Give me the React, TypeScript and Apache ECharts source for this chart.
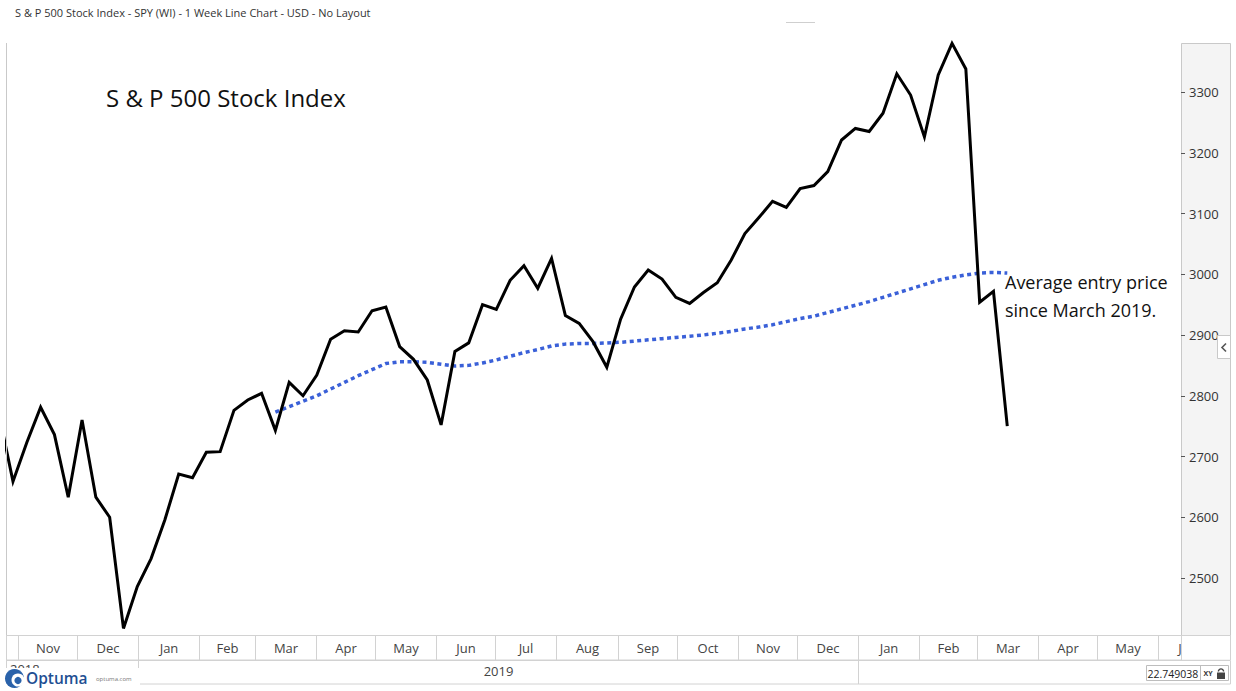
import { useEffect, useRef } from "react";
import * as echarts from "echarts";

// Weekly closing dates (Friday) and closes of the S&P 500
const weekEnding = [
  "2018-10-19", "2018-10-26", "2018-11-02", "2018-11-09", "2018-11-16", "2018-11-23", "2018-11-30",
  "2018-12-07", "2018-12-14", "2018-12-21", "2018-12-28",
  "2019-01-04", "2019-01-11", "2019-01-18", "2019-01-25", "2019-02-01", "2019-02-08", "2019-02-15",
  "2019-02-22", "2019-03-01", "2019-03-08", "2019-03-15", "2019-03-22", "2019-03-29", "2019-04-05",
  "2019-04-12", "2019-04-19", "2019-04-26", "2019-05-03", "2019-05-10", "2019-05-17", "2019-05-24",
  "2019-05-31", "2019-06-07", "2019-06-14", "2019-06-21", "2019-06-28", "2019-07-05", "2019-07-12",
  "2019-07-19", "2019-07-26", "2019-08-02", "2019-08-09", "2019-08-16", "2019-08-23", "2019-08-30",
  "2019-09-06", "2019-09-13", "2019-09-20", "2019-09-27", "2019-10-04", "2019-10-11", "2019-10-18",
  "2019-10-25", "2019-11-01", "2019-11-08", "2019-11-15", "2019-11-22", "2019-11-29", "2019-12-06",
  "2019-12-13", "2019-12-20", "2019-12-27",
  "2020-01-03", "2020-01-10", "2020-01-17", "2020-01-24", "2020-01-31", "2020-02-07", "2020-02-14",
  "2020-02-21", "2020-02-28", "2020-03-06", "2020-03-13",
];

const spxClose = [
  2768, 2659, 2723, 2781, 2736, 2633, 2760, 2633, 2600, 2417, 2486,
  2532, 2596, 2671, 2665, 2707, 2708, 2776, 2793, 2804, 2743, 2822, 2800, 2834, 2893, 2907,
  2905, 2940, 2946, 2881, 2860, 2826, 2752, 2873, 2887, 2950, 2942, 2990, 3014, 2977, 3026,
  2932, 2919, 2889, 2847, 2926, 2979, 3007, 2992, 2962, 2952, 2970, 2986, 3023, 3067, 3093,
  3120, 3110, 3141, 3146, 3169, 3221, 3240,
  3235, 3265, 3330, 3295, 3226, 3328, 3380, 3338, 2954, 2972, 2750,
];

// Average entry price, one value per week from the first March 2019 entry
const avgEntryFrom = "2019-03-08";
const avgEntry = [
  2773, 2782, 2791, 2800, 2811, 2822, 2833, 2843, 2853, 2856, 2856, 2855, 2852, 2849, 2850,
  2854, 2859, 2865, 2871, 2876, 2882, 2885, 2886, 2886, 2887, 2888, 2890, 2892, 2894, 2896,
  2898, 2900, 2903, 2906, 2910, 2913, 2917, 2922, 2927, 2931, 2937, 2943, 2949, 2955, 2962,
  2969, 2976, 2983, 2990, 2995, 2999, 3002, 3003, 3002,
];

// Time band: month cells and year cells
const monthStarts = [
  "2018-11-01", "2018-12-01", "2019-01-01", "2019-02-01", "2019-03-01", "2019-04-01", "2019-05-01",
  "2019-06-01", "2019-07-01", "2019-08-01", "2019-09-01", "2019-10-01", "2019-11-01", "2019-12-01",
  "2020-01-01", "2020-02-01", "2020-03-01", "2020-04-01", "2020-05-01", "2020-06-01", "2020-07-01",
];
const monthNames = [
  "Nov", "Dec", "Jan", "Feb", "Mar", "Apr", "May", "Jun", "Jul", "Aug",
  "Sep", "Oct", "Nov", "Dec", "Jan", "Feb", "Mar", "Apr", "May", "Jun",
];
const yearStarts = ["2019-01-01", "2020-01-01"];
const yearLabels = ["2018", "2019"];

const yTicks = { min: 2400, max: 3400, step: 100 };

const headerText = "S & P 500 Stock Index - SPY (WI) - 1 Week Line Chart - USD - No Layout";
const chartTitle = "S & P 500 Stock Index";
const noteLines = ["Average entry price", "since March 2019."];
const readout = "22.749038";

const DAY = 86400000;
const ts = (d: string) => Date.parse(d + "T00:00:00Z");

const viewStart = ts("2018-10-22") + 23 * 3600000;
const viewEnd = ts("2020-06-09") + 1.5 * 3600000;

const FONT = '"Open Sans", "Noto Sans", sans-serif';
const BORDER = "#d2d2d2";
const PLOT_RIGHT = 1181.5;

export default function App() {
  const ref = useRef<HTMLDivElement>(null);

  useEffect(() => {
    if (!ref.current) return;
    const chart = echarts.init(ref.current, undefined, { renderer: "svg" });

    const avgOffset = weekEnding.indexOf(avgEntryFrom);
    const priceData = weekEnding.map((d, i) => [ts(d), spxClose[i]]);
    const avgData = avgEntry.map((v, i) => [ts(weekEnding[avgOffset + i]), v]);

    chart.setOption({
      animation: false,
      backgroundColor: "#ffffff",
      grid: { left: 7, right: 55, top: 31.25, bottom: 52.25, containLabel: false },
      xAxis: { type: "time", min: viewStart, max: viewEnd, show: false },
      yAxis: {
        type: "value",
        position: "right",
        min: yTicks.min,
        max: yTicks.max,
        interval: yTicks.step,
        axisLine: { show: false },
        axisTick: { show: true, length: 4, lineStyle: { color: "#555", width: 1 } },
        axisLabel: {
          margin: 8,
          color: "#333",
          fontSize: 13,
          fontFamily: FONT,
          // the end ticks fall under the header and the time band
          formatter: (v: number) => (v >= yTicks.max || v <= yTicks.min ? "" : String(v)),
        },
        splitLine: { show: false },
      },
      series: [
        {
          type: "line",
          data: avgData,
          showSymbol: false,
          z: 2,
          lineStyle: { color: "#3a60d8", width: 3.5, type: [4, 3.5] },
        },
        {
          type: "line",
          data: priceData,
          showSymbol: false,
          z: 3,
          lineStyle: { color: "#000000", width: 3, join: "miter", miterLimit: 4 },
        },
      ],
    });

    const px = (t: number) => chart.convertToPixel({ xAxisIndex: 0 }, t) as number;
    // cell boundaries sit half a week before the first day of the period
    const sepX = (d: string) => Math.round(px(ts(d) - 3.5 * DAY)) + 0.5;

    const g: any[] = [];

    // header
    g.push({
      type: "text", x: 15, y: 12, z: 120,
      style: { text: headerText, font: `11px ${FONT}`, fill: "#333", textVerticalAlign: "middle" },
    });
    g.push({
      type: "line", z: 120,
      shape: { x1: 786, y1: 22.5, x2: 815, y2: 22.5 },
      style: { stroke: "#cfcfcf", lineWidth: 1 },
    });

    // price axis panel
    g.push({
      type: "rect", z: -1,
      shape: { x: PLOT_RIGHT, y: 43.5, width: 49, height: 592 },
      style: { fill: "#f4f4f4", stroke: "#c9c9c9", lineWidth: 1 },
    });
    g.push({
      type: "rect", z: 100,
      shape: { x: 1170, y: 24, width: 66, height: 19 },
      style: { fill: "#ffffff" },
    });
    // collapse button
    g.push({
      type: "rect", z: 101,
      shape: { x: 1217.5, y: 335.5, width: 13, height: 23 },
      style: { fill: "#ffffff", stroke: "#c9c9c9", lineWidth: 1 },
    });
    g.push({
      type: "polyline", z: 102,
      shape: { points: [[1226, 343.5], [1222, 347.5], [1226, 351.5]] },
      style: { stroke: "#555", lineWidth: 1.6, fill: null },
    });

    // plot frame left edge
    g.push({
      type: "line", z: 100,
      shape: { x1: 6.5, y1: 43, x2: 6.5, y2: 684 },
      style: { stroke: "#c9c9c9", lineWidth: 1 },
    });

    // chart title and note
    g.push({
      type: "text", x: 106, y: 97, z: 50,
      style: { text: chartTitle, font: `24px ${FONT}`, fill: "#111", textVerticalAlign: "middle" },
    });
    noteLines.forEach((t, i) => {
      g.push({
        type: "text", x: 1005, y: 282 + i * 28, z: 50,
        style: { text: t, font: `18px ${FONT}`, fill: "#111", textVerticalAlign: "middle" },
      });
    });

    // month band
    g.push({
      type: "rect", z: 100,
      shape: { x: 6.5, y: 635.5, width: 1224, height: 24.5 },
      style: { fill: "#ffffff", stroke: BORDER, lineWidth: 1 },
    });
    monthStarts.forEach((d, k) => {
      const x = sepX(d);
      if (x < PLOT_RIGHT) {
        g.push({
          type: "line", z: 101,
          shape: { x1: x, y1: 636, x2: x, y2: 660 },
          style: { stroke: BORDER, lineWidth: 1 },
        });
      }
      if (k < monthNames.length) {
        const x2 = sepX(monthStarts[k + 1]);
        g.push({
          type: "text", x: (x + x2) / 2, y: 648, z: 101,
          style: {
            text: monthNames[k], font: `13px ${FONT}`, fill: "#444",
            textAlign: "center", textVerticalAlign: "middle",
          },
        });
      }
    });
    // band area under the price axis hides whatever runs past the plot edge
    g.push({
      type: "rect", z: 105,
      shape: { x: PLOT_RIGHT, y: 636, width: 54, height: 23.5 },
      style: { fill: "#ffffff" },
    });
    g.push({
      type: "polyline", z: 106,
      shape: { points: [[PLOT_RIGHT, 660], [PLOT_RIGHT, 635.5], [1230.5, 635.5], [1230.5, 660]] },
      style: { stroke: BORDER, lineWidth: 1, fill: null },
    });

    // year band
    g.push({
      type: "rect", z: 100,
      shape: { x: 6.5, y: 660.5, width: 1224, height: 23.5 },
      style: { fill: "#ffffff", stroke: BORDER, lineWidth: 1 },
    });
    const ySeps = yearStarts.map(sepX);
    ySeps.forEach((x) => {
      g.push({
        type: "line", z: 101,
        shape: { x1: x, y1: 660.5, x2: x, y2: 684 },
        style: { stroke: BORDER, lineWidth: 1 },
      });
    });
    g.push({
      type: "text", x: 10, y: 669, z: 101,
      style: { text: yearLabels[0], font: `13px ${FONT}`, fill: "#444", textVerticalAlign: "middle" },
    });
    g.push({
      type: "text", x: (ySeps[0] + ySeps[1]) / 2, y: 671, z: 101,
      style: {
        text: yearLabels[1], font: `13px ${FONT}`, fill: "#444",
        textAlign: "center", textVerticalAlign: "middle",
      },
    });

    // Optuma badge
    g.push({
      type: "rect", z: 110,
      shape: { x: 0, y: 668, width: 140, height: 20 },
      style: { fill: "#ffffff" },
    });
    g.push({ type: "circle", z: 111, shape: { cx: 14.5, cy: 678.5, r: 9.5 }, style: { fill: "#2a62aa" } });
    g.push({ type: "circle", z: 112, shape: { cx: 18, cy: 680, r: 6.5 }, style: { fill: "#ffffff" } });
    g.push({ type: "circle", z: 113, shape: { cx: 18, cy: 680.5, r: 3.6 }, style: { fill: "#2a62aa" } });
    g.push({
      type: "text", x: 26, y: 678, z: 111,
      style: { text: "Optuma", font: `600 15.5px ${FONT}`, fill: "#1f4f93", textVerticalAlign: "middle" },
    });
    g.push({
      type: "text", x: 96, y: 679, z: 111,
      style: { text: "optuma.com", font: `6px ${FONT}`, fill: "#777", textVerticalAlign: "middle" },
    });

    // cursor readout box
    g.push({
      type: "rect", z: 110,
      shape: { x: 1146.5, y: 665.5, width: 82, height: 15 },
      style: { fill: "#ffffff", stroke: "#bdbdbd", lineWidth: 1 },
    });
    g.push({
      type: "text", x: 1147.5, y: 673.5, z: 111,
      style: { text: readout, font: `10.5px ${FONT}`, fill: "#222", textVerticalAlign: "middle" },
    });
    g.push({
      type: "line", z: 113,
      shape: { x1: 1200.5, y1: 665.5, x2: 1200.5, y2: 680.5 },
      style: { stroke: "#bdbdbd", lineWidth: 1 },
    });
    g.push({
      type: "text", x: 1208, y: 673.5, z: 113,
      style: {
        text: "XY", font: `bold 7px ${FONT}`, fill: "#333",
        textAlign: "center", textVerticalAlign: "middle",
      },
    });
    g.push({
      type: "arc", z: 113,
      shape: { cx: 1221, cy: 671.5, r: 2.6, startAngle: Math.PI, endAngle: 2 * Math.PI },
      style: { stroke: "#444", lineWidth: 1.4, fill: null },
    });
    g.push({
      type: "rect", z: 113,
      shape: { x: 1217, y: 672.5, width: 8, height: 6.5 },
      style: { fill: "#444" },
    });

    chart.setOption({ graphic: g });

    return () => chart.dispose();
  }, []);

  return (
    <div
      ref={ref}
      style={{ position: "fixed", left: 0, top: 0, width: 1236, height: 691, background: "#fff" }}
    />
  );
}
